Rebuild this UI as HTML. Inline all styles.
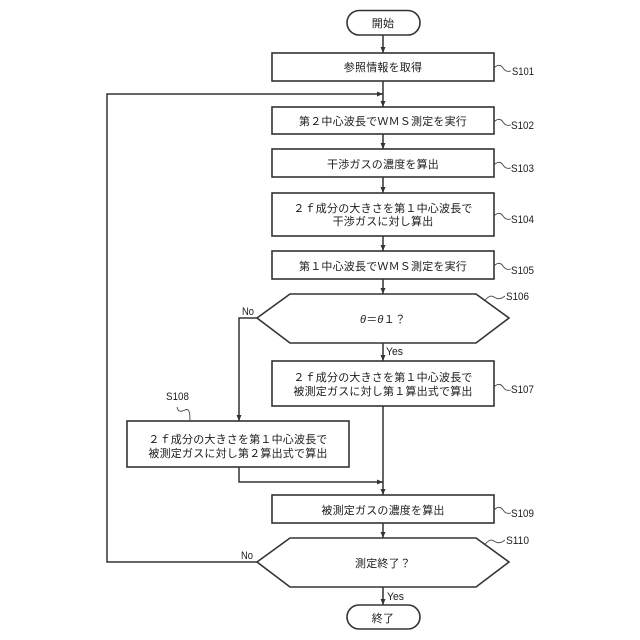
<!DOCTYPE html>
<html>
<head>
<meta charset="utf-8">
<style>
html,body{margin:0;padding:0;background:#fff}
svg{display:block}
text{font-family:"Liberation Sans","Noto Sans CJK JP",sans-serif;fill:#1c1c1c}
.t{font-size:11px;text-anchor:middle;letter-spacing:.2px}
.l{font-size:11px}
.s{fill:none;stroke:#333;stroke-width:1.5}
.b{fill:#fff;stroke:#333;stroke-width:1.6}
.c{fill:none;stroke:#444;stroke-width:.9}
</style>
</head>
<body>
<svg width="640" height="640" viewBox="0 0 640 640" xmlns="http://www.w3.org/2000/svg">
<defs>
<marker id="a" markerWidth="7" markerHeight="7" refX="6" refY="2.500" orient="auto" markerUnits="userSpaceOnUse"><path d="M0,0L6,2.500L0,5Z" fill="#333"/></marker>
</defs>

<!-- connectors -->
<path class="s" d="M383 35V53" marker-end="url(#a)"/>
<path class="s" d="M383 81V107" marker-end="url(#a)"/>
<path class="s" d="M383 134V149" marker-end="url(#a)"/>
<path class="s" d="M383 177V193" marker-end="url(#a)"/>
<path class="s" d="M383 236V251" marker-end="url(#a)"/>
<path class="s" d="M383 279V294" marker-end="url(#a)"/>
<path class="s" d="M383 343V361" marker-end="url(#a)"/>
<path class="s" d="M383 406V495" marker-end="url(#a)"/>
<path class="s" d="M383 523V538" marker-end="url(#a)"/>
<path class="s" d="M383 587V605" marker-end="url(#a)"/>
<path class="s" d="M257 318H239V421" marker-end="url(#a)"/>
<path class="s" d="M239 467V482H383" marker-end="url(#a)"/>
<path class="s" d="M257 562H107V94H383" marker-end="url(#a)"/>

<!-- nodes -->
<rect class="b" x="347" y="10.500" width="73" height="24.500" rx="12.200"/>
<rect class="b" x="272" y="53" width="222" height="28"/>
<rect class="b" x="272" y="107" width="222" height="27"/>
<rect class="b" x="272" y="149" width="222" height="28"/>
<rect class="b" x="272" y="193" width="222" height="43"/>
<rect class="b" x="272" y="251" width="222" height="28"/>
<polygon class="b" points="257,318 290,294 476,294 509,318 476,343 290,343"/>
<rect class="b" x="272" y="361" width="222" height="45"/>
<rect class="b" x="127" y="421" width="222" height="46"/>
<rect class="b" x="272" y="495" width="222" height="28"/>
<polygon class="b" points="257,562 290,538 476,538 509,562 476,587 290,587"/>
<rect class="b" x="347" y="605" width="73" height="24" rx="12"/>

<!-- text -->
<text class="t" x="383" y="27">開始</text>
<text class="t" x="383" y="71">参照情報を取得</text>
<text class="t" x="383" y="125">第２中心波長でＷＭＳ測定を実行</text>
<text class="t" x="383" y="168">干渉ガスの濃度を算出</text>
<text class="t" x="383" y="212">２ｆ成分の大きさを第１中心波長で</text>
<text class="t" x="383" y="225">干渉ガスに対し算出</text>
<text class="t" x="383" y="270">第１中心波長でＷＭＳ測定を実行</text>
<text class="t" x="383" y="323"><tspan font-style="italic">θ</tspan>＝<tspan font-style="italic">θ</tspan>１？</text>
<text class="t" x="383" y="381">２ｆ成分の大きさを第１中心波長で</text>
<text class="t" x="383" y="395">被測定ガスに対し第１算出式で算出</text>
<text class="t" x="238" y="443">２ｆ成分の大きさを第１中心波長で</text>
<text class="t" x="238" y="457">被測定ガスに対し第２算出式で算出</text>
<text class="t" x="383" y="514">被測定ガスの濃度を算出</text>
<text class="t" x="383" y="567">測定終了？</text>
<text class="t" x="383" y="622">終了</text>

<!-- branch labels -->
<text class="l" x="242" y="315" textLength="12" lengthAdjust="spacingAndGlyphs">No</text>
<text class="l" x="386" y="355" textLength="17" lengthAdjust="spacingAndGlyphs">Yes</text>
<text class="l" x="241" y="559" textLength="12" lengthAdjust="spacingAndGlyphs">No</text>
<text class="l" x="387" y="600" textLength="17" lengthAdjust="spacingAndGlyphs">Yes</text>

<!-- step labels and callouts -->
<path class="c" d="M494 68C498 64 501 65 503 68S507 72 511 71"/>
<text class="l" x="512" y="75" textLength="22" lengthAdjust="spacingAndGlyphs">S101</text>
<path class="c" d="M494 122C498 118 501 119 503 122S507 126 511 125"/>
<text class="l" x="511" y="129" textLength="23" lengthAdjust="spacingAndGlyphs">S102</text>
<path class="c" d="M494 165C498 161 501 162 503 165S507 169 511 168"/>
<text class="l" x="511" y="172" textLength="23" lengthAdjust="spacingAndGlyphs">S103</text>
<path class="c" d="M494 216C498 212 501 213 503 216S507 220 511 219"/>
<text class="l" x="511" y="223" textLength="23" lengthAdjust="spacingAndGlyphs">S104</text>
<path class="c" d="M494 266C498 262 501 263 503 266S507 270 511 269"/>
<text class="l" x="511" y="274" textLength="23" lengthAdjust="spacingAndGlyphs">S105</text>
<path class="c" d="M484 301C489 296 491 295 494 297S500 300 505 296"/>
<text class="l" x="506" y="300" textLength="23" lengthAdjust="spacingAndGlyphs">S106</text>
<path class="c" d="M494 387C498 383 501 384 503 387S507 391 511 390"/>
<text class="l" x="511" y="393" textLength="23" lengthAdjust="spacingAndGlyphs">S107</text>
<path class="c" d="M190 421C190 412 189 408 185 410S178 412 177 407"/>
<text class="l" x="166" y="400" textLength="23" lengthAdjust="spacingAndGlyphs">S108</text>
<path class="c" d="M494 510C498 506 501 507 503 510S507 514 511 513"/>
<text class="l" x="511" y="517" textLength="23" lengthAdjust="spacingAndGlyphs">S109</text>
<path class="c" d="M484 545C489 540 491 539 494 541S500 544 505 540"/>
<text class="l" x="506" y="544" textLength="23" lengthAdjust="spacingAndGlyphs">S110</text>
</svg>
</body>
</html>
